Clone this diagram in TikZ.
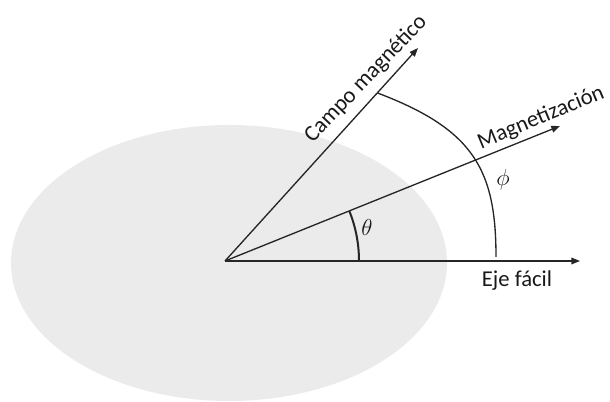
\documentclass[tikz,border=0pt]{standalone}
\usepackage{fontspec}
\setmainfont{Carlito}
\usetikzlibrary{arrows.meta}
\begin{document}
\begin{tikzpicture}[x=0.75pt,y=0.75pt,
  axis/.style={draw=black!85,line width=1pt,-{Triangle[length=6.5pt,width=5pt]}},
  anglearc/.style={draw=black!85,line width=1pt},
  lbl/.style={font=\fontsize{17}{20}\selectfont,inner sep=0pt,text=black!90},
  sym/.style={font=\fontsize{19}{22}\selectfont,inner sep=0pt,text=black!90}]
\useasboundingbox (0,0) rectangle (610,402);
\fill[black!8] (229,139) ellipse [x radius=218,y radius=138];
\coordinate (O) at (225,141);
\coordinate (eje) at (580,141);
\coordinate (campo) at (418,354);
\coordinate (mag) at (560,276);
\coordinate (phiS) at (496,145);
\coordinate (phiE) at (377.5,309);
\coordinate (thS) at (359,141);
\draw[axis] (O) -- (eje);
\draw[axis] (O) -- (campo);
\draw[axis] (O) -- (mag);
\draw[anglearc,line width=1.5pt] (thS) arc[start angle=0,end angle=21.9,radius=134];
\draw[anglearc] (phiS) .. controls (496,232) and (474,272.5) .. (phiE);
\node[lbl] (tEje) at (517,121) {Eje fácil};
\node[lbl,rotate=22.5] (tMag) at (541,284) {Magnetización};
\node[lbl,rotate=46.5] (tCampo) at (366,323) {Campo magnético};
\node[sym] (theta) at (367,174) {$\theta$};
\node[sym] (phi) at (503,222) {$\phi$};
\end{tikzpicture}
\end{document}
